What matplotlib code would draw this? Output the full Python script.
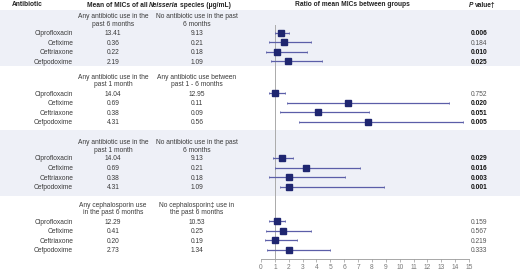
import matplotlib
matplotlib.use("Agg")
import matplotlib.pyplot as plt

plt.rcParams['font.family'] = ['Liberation Sans', 'DejaVu Sans']

antibiotics = ["Ciprofloxacin", "Cefixime", "Ceftriaxone", "Cefpodoxime"]
group_a = [["Any antibiotic use in the", "past 6 months"],
           ["Any antibiotic use in the", "past 1 month"],
           ["Any antibiotic use in the", "past 1 month"],
           ["Any cephalosporin use", "in the past 6 months"]]
group_b = [["No antibiotic use in the past", "6 months"],
           ["Any antibiotic use between", "past 1 - 6 months"],
           ["No antibiotic use in the past", "6 months"],
           ["No cephalosporin\u2021 use in", "the past 6 months"]]
mic_a = [["13.41", "0.36", "0.22", "2.19"],
         ["14.04", "0.69", "0.38", "4.31"],
         ["14.04", "0.69", "0.38", "4.31"],
         ["12.29", "0.41", "0.20", "2.73"]]
mic_b = [["9.13", "0.21", "0.18", "1.09"],
         ["12.95", "0.11", "0.09", "0.56"],
         ["9.13", "0.21", "0.18", "1.09"],
         ["10.53", "0.25", "0.19", "1.34"]]
ratio = [[1.44, 1.63, 1.13, 1.97],
         [1.03, 6.25, 4.08, 7.69],
         [1.49, 3.24, 2.00, 2.02],
         [1.13, 1.59, 0.99, 2.00]]
ci_low = [[1.00, 0.60, 0.36, 0.72],
          [0.60, 1.85, 1.39, 2.72],
          [0.89, 0.99, 0.58, 1.39],
          [0.58, 0.38, 0.31, 0.45]]
ci_high = [[2.04, 3.58, 3.29, 4.42],
           [1.71, 13.55, 7.79, 14.59],
           [2.33, 7.11, 6.08, 8.85],
           [1.75, 3.63, 2.57, 4.97]]
p_values = [["0.006", "0.184", "0.010", "0.025"],
            ["0.752", "0.020", "0.051", "0.005"],
            ["0.029", "0.016", "0.003", "0.001"],
            ["0.159", "0.567", "0.219", "0.333"]]
p_bold = [[True, False, True, True],
          [False, True, True, True],
          [True, True, True, True],
          [False, False, False, False]]
x_ticks = list(range(0, 16))

# layout (pixel units)
W, H = 520, 270
first_row = [33.5, 94, 159, 222]
row_step = 9.6
bands = [(10, 66), (130, 196)]
band_color = "#eef0f7"
text_color = "#3a3a3a"
fs = 4.8

fig = plt.figure(figsize=(W / 100, H / 100), dpi=100)
bg = fig.add_axes([0, 0, 1, 1])
bg.set_xlim(0, W)
bg.set_ylim(H, 0)
bg.axis("off")
for y0, y1 in bands:
    bg.axhspan(y0, y1, color=band_color, lw=0, zorder=0)

renderer = fig.canvas.get_renderer()


def text_width(s, style, weight):
    t = bg.text(0, 0, s, fontsize=fs, fontstyle=style, fontweight=weight)
    w = t.get_window_extent(renderer).width
    t.remove()
    return w


def rich(ax, xc, y, parts):
    texts = []
    widths = []
    for s, style, weight in parts:
        core = s.strip()
        nspace = len(s) - len(s.lstrip())
        tspace = len(s) - len(s.rstrip())
        sp = 0.8 * (text_width("a a", style, weight) - text_width("aa", style, weight))
        t = ax.text(0, y, core, fontsize=fs, fontstyle=style, fontweight=weight,
                    color="#222222", ha="left", va="baseline")
        w = t.get_window_extent(renderer).width
        texts.append((t, nspace * sp))
        widths.append(w + (nspace + tspace) * sp)
    total = sum(widths)
    x = xc - total / 2
    for (t, lead), w in zip(texts, widths):
        t.set_x(x + lead)
        x += w


# headers
bg.text(27, 5, "Antibiotic", fontsize=fs, fontweight="bold", color="#222222",
        ha="center", va="center")
rich(bg, 159, 6.8, [("Mean of MICs of all ", "normal", "bold"),
                    ("Neisseria", "italic", "bold"),
                    (" species (\u03bcg/mL)", "normal", "bold")])
bg.text(352, 5, "Ratio of mean MICs between groups", fontsize=fs,
        fontweight="bold", color="#222222", ha="center", va="center")
rich(bg, 482, 6.8, [("P", "italic", "bold"), (" value\u2020", "normal", "bold")])

col_a, col_b, col_name, col_p = 113, 197, 73, 479

for s in range(4):
    y0 = first_row[s]
    for k, line in enumerate(group_a[s]):
        bg.text(col_a, y0 - 16.5 + 7.5 * k, line, fontsize=fs, color=text_color,
                ha="center", va="center")
    for k, line in enumerate(group_b[s]):
        bg.text(col_b, y0 - 16.5 + 7.5 * k, line, fontsize=fs, color=text_color,
                ha="center", va="center")
    for i, name in enumerate(antibiotics):
        y = y0 + i * row_step
        bg.text(col_name, y, name, fontsize=fs, color=text_color, ha="right", va="center")
        bg.text(col_a, y, mic_a[s][i], fontsize=fs, color=text_color, ha="center", va="center")
        bg.text(col_b, y, mic_b[s][i], fontsize=fs, color=text_color, ha="center", va="center")
        bg.text(col_p, y, p_values[s][i], fontsize=fs,
                color="#111111" if p_bold[s][i] else "#555555",
                fontweight="bold" if p_bold[s][i] else "normal",
                ha="center", va="center")

# forest axes
x0px, x1px = 261, 469
ytop, ybot = 10, 259
fa = fig.add_axes([x0px / W, (H - ybot) / H, (x1px - x0px) / W, (ybot - ytop) / H])
fa.patch.set_alpha(0)
fa.set_xlim(0, 15)
fa.set_ylim(ybot, ytop)
for sp in ["top", "right", "left"]:
    fa.spines[sp].set_visible(False)
fa.spines["bottom"].set_color("#999999")
fa.spines["bottom"].set_linewidth(0.6)
fa.set_yticks([])
fa.set_xticks(x_ticks)
fa.set_xticklabels([str(v) for v in x_ticks])
fa.tick_params(axis="x", length=2, width=0.5, color="#999999", labelsize=fs,
               labelcolor="#777777", pad=1.5)
fa.plot([1, 1], [25, ybot], color="#aaaaaa", lw=0.7, zorder=1)

for s in range(4):
    for i in range(4):
        y = first_row[s] + i * row_step - 1
        r = ratio[s][i]
        fa.errorbar([r], [y], xerr=[[r - ci_low[s][i]], [ci_high[s][i] - r]],
                    fmt="s", color="#1f2670", ecolor="#5b5ea8", elinewidth=0.9,
                    capsize=1.0, capthick=0.6, markersize=3.8, zorder=3)

fig.savefig("out.png", dpi=100)
